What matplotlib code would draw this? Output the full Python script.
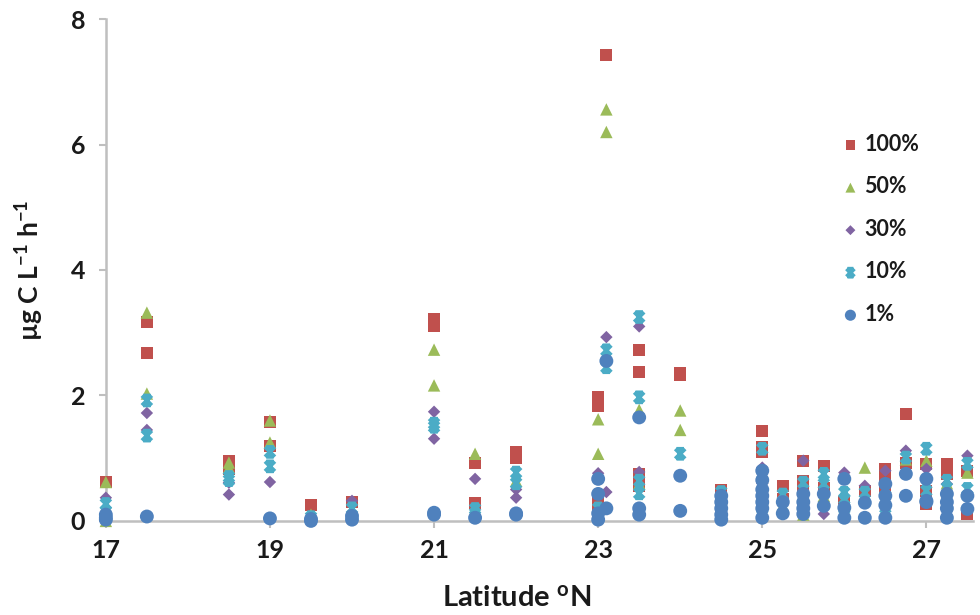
import matplotlib
matplotlib.use("Agg")
import matplotlib.pyplot as plt
from matplotlib.path import Path

plt.rcParams['font.family'] = ['Lato', 'DejaVu Sans']
plt.rcParams['font.weight'] = 'bold'
plt.rcParams['mathtext.fontset'] = 'custom'
plt.rcParams['mathtext.rm'] = 'Lato:bold'
plt.rcParams['mathtext.bf'] = 'Lato:bold'
plt.rcParams['mathtext.it'] = 'Lato:bold'

# primary production by light level, per station latitude
lat_100 = [17, 17.5, 17.5, 18.5, 18.5, 19, 19, 19.5, 20, 21, 21, 21.5, 21.5, 22, 22,
           23, 23, 23, 23, 23.1, 23.5, 23.5, 23.5, 23.5, 24, 24, 24.5, 24.5,
           25, 25, 25, 25.25, 25.25, 25.5, 25.5, 25.5, 25.75, 25.75, 26, 26.25,
           26.5, 26.5, 26.5, 26.75, 26.75, 27, 27, 27, 27.25, 27.25, 27.5, 27.5]
val_100 = [0.62, 3.17, 2.67, 0.95, 0.82, 1.58, 1.2, 0.25, 0.3, 3.22, 3.1, 0.93, 0.29, 1.1, 1.0,
           1.97, 1.83, 0.32, 0.14, 7.42, 2.73, 2.37, 0.75, 0.55, 2.36, 2.33, 0.5, 0.4,
           1.43, 1.18, 1.1, 0.55, 0.35, 0.96, 0.64, 0.53, 0.88, 0.53, 0.3, 0.48,
           0.83, 0.65, 0.48, 1.71, 0.93, 0.91, 0.48, 0.27, 0.91, 0.75, 0.8, 0.11]

lat_50 = [17, 17, 17.5, 17.5, 18.5, 18.5, 19, 19, 19.5, 20, 21, 21, 21.5, 22,
          23, 23, 23, 23.1, 23.1, 23.5, 23.5, 24, 24, 24.5, 24.5, 25, 25, 25.25,
          25.5, 25.75, 26, 26.25, 26.5, 26.75, 27, 27.25, 27.5]
val_50 = [0.62, 0.0, 3.32, 2.03, 0.93, 0.85, 1.6, 1.25, 0.1, 0.15, 2.73, 2.16, 1.07, 0.64,
          1.62, 1.07, 0.1, 6.56, 6.2, 1.77, 0.6, 1.76, 1.45, 0.35, 0.2, 0.7, 0.35, 0.25,
          0.1, 0.4, 0.27, 0.85, 0.37, 0.98, 0.96, 0.6, 0.77]

lat_30 = [17, 17.5, 17.5, 18.5, 18.5, 19, 20, 21, 21, 21.5, 22, 22,
          23, 23.1, 23.1, 23.5, 23.5, 24, 24.5, 24.5, 25, 25, 25.25,
          25.5, 25.75, 26, 26.25, 26.5, 26.75, 27, 27.25, 27.5]
val_30 = [0.37, 1.72, 1.45, 0.61, 0.42, 0.62, 0.32, 1.74, 1.31, 0.67, 0.5, 0.37,
          0.76, 2.93, 0.46, 3.1, 0.78, 0.72, 0.3, 0.15, 0.85, 0.6, 0.3,
          0.96, 0.11, 0.77, 0.56, 0.8, 1.12, 0.83, 0.59, 1.04]

lat_10 = [17, 17, 17.5, 17.5, 18.5, 18.5, 19, 19, 19.5, 20, 21, 21, 21.5, 21.5, 22, 22,
          23, 23, 23.1, 23.1, 23.5, 23.5, 23.5, 23.5, 24, 24.5, 24.5, 25, 25, 25,
          25.25, 25.5, 25.75, 25.75, 26, 26, 26, 26.25, 26.5, 26.5, 26.75,
          27, 27, 27.25, 27.5, 27.5]
val_10 = [0.27, 0.15, 1.92, 1.36, 0.7, 0.65, 1.1, 0.87, 0.06, 0.2, 1.55, 1.5, 0.19, 0.12, 0.77, 0.6,
          0.2, 0.05, 2.72, 2.45, 3.25, 1.97, 0.64, 0.44, 1.07, 0.46, 0.25, 1.15, 0.75, 0.2,
          0.42, 0.61, 0.75, 0.59, 0.45, 0.35, 0.2, 0.45, 0.51, 0.21, 1.01,
          1.15, 0.48, 0.64, 0.91, 0.51]

lat_1 = [17, 17, 17, 17.5, 19, 19.5, 19.5, 20, 20, 21, 21, 21.5, 22, 22,
         23, 23, 23, 23, 23.1, 23.1, 23.5, 23.5, 23.5, 24, 24,
         24.5, 24.5, 24.5, 24.5, 24.5, 25, 25, 25, 25, 25, 25, 25,
         25.25, 25.25, 25.5, 25.5, 25.5, 25.5, 25.75, 25.75, 26, 26, 26,
         26.25, 26.25, 26.5, 26.5, 26.5, 26.5, 26.75, 26.75, 27, 27, 27,
         27.25, 27.25, 27.25, 27.25, 27.5, 27.5]
val_1 = [0.1, 0.05, 0.02, 0.07, 0.04, 0.03, 0.0, 0.08, 0.02, 0.13, 0.1, 0.05, 0.12, 0.1,
         0.67, 0.43, 0.12, 0.02, 2.55, 0.2, 1.65, 0.2, 0.1, 0.72, 0.16,
         0.4, 0.3, 0.2, 0.1, 0.02, 0.8, 0.65, 0.5, 0.4, 0.3, 0.2, 0.05,
         0.3, 0.12, 0.43, 0.3, 0.2, 0.11, 0.43, 0.24, 0.67, 0.21, 0.05,
         0.29, 0.05, 0.59, 0.4, 0.25, 0.05, 0.75, 0.4, 0.67, 0.32, 0.3,
         0.43, 0.3, 0.2, 0.05, 0.4, 0.19]

labels = ['100%', '50%', '30%', '10%', '1%']
colors = ['#C0504D', '#9BBB59', '#8064A2', '#4BACC6', '#4F81BD']

# x with caps, like the spreadsheet "star" marker
cap_x = Path([(-1, -1), (1, 1), (-1, 1), (1, -1), (-0.75, 1), (0.75, 1), (-0.75, -1), (0.75, -1)],
             [Path.MOVETO, Path.LINETO] * 4)

fig = plt.figure(figsize=(9.8, 6.15), dpi=100)
ax = fig.add_axes([0.108, 0.153, 0.885, 0.816])

series = [(lat_100, val_100), (lat_50, val_50), (lat_30, val_30), (lat_10, val_10), (lat_1, val_1)]
styles = [dict(marker='s', s=75), dict(marker='^', s=80), dict(marker='D', s=40),
          dict(marker=cap_x, s=50), dict(marker='o', s=100)]

for (lat, val), label, color, st in zip(series, labels, colors, styles):
    if st['marker'] is cap_x:
        ax.scatter(lat, val, marker=cap_x, s=st['s'], facecolors='none', edgecolors=color,
                   linewidths=2.8, label=label, zorder=3, clip_on=False)
    else:
        ax.scatter(lat, val, marker=st['marker'], s=st['s'], color=color, edgecolors='none',
                   label=label, zorder=3, clip_on=False)

ax.set_xlim(17, 27.57)
ax.set_ylim(0, 8)
ax.set_xticks([17, 19, 21, 23, 25, 27])
ax.set_yticks([0, 2, 4, 6, 8])

for side in ['top', 'right']:
    ax.spines[side].set_visible(False)
for side in ['left', 'bottom']:
    ax.spines[side].set_color('#BFBFBF')
    ax.spines[side].set_linewidth(1.8)

ax.tick_params(axis='both', colors='#BFBFBF', length=5, width=1.5, labelcolor='#1a1a1a',
               labelsize=18, direction='out')
ax.tick_params(axis='x', pad=8)
ax.tick_params(axis='y', pad=10)

ax.set_xlabel(r'Latitude $^{\mathbf{o}}$N', fontsize=21, fontweight='bold', color='#1a1a1a')
ax.xaxis.set_label_coords(0.474, -0.128)
ax.set_ylabel(r'µg C L$^{\mathbf{-1}}$ h$^{\mathbf{-1}}$', fontsize=19, fontweight='bold',
              color='#1a1a1a', labelpad=18)

leg = ax.legend(loc='upper left', bbox_to_anchor=(0.848, 0.8), bbox_transform=fig.transFigure,
                frameon=False, fontsize=15.5, labelspacing=1.0, handletextpad=0.25,
                handlelength=0.8, borderpad=0, scatterpoints=1, markerscale=0.8)
for t in leg.get_texts():
    t.set_color('#1a1a1a')

fig.savefig('out.png', dpi=100)
